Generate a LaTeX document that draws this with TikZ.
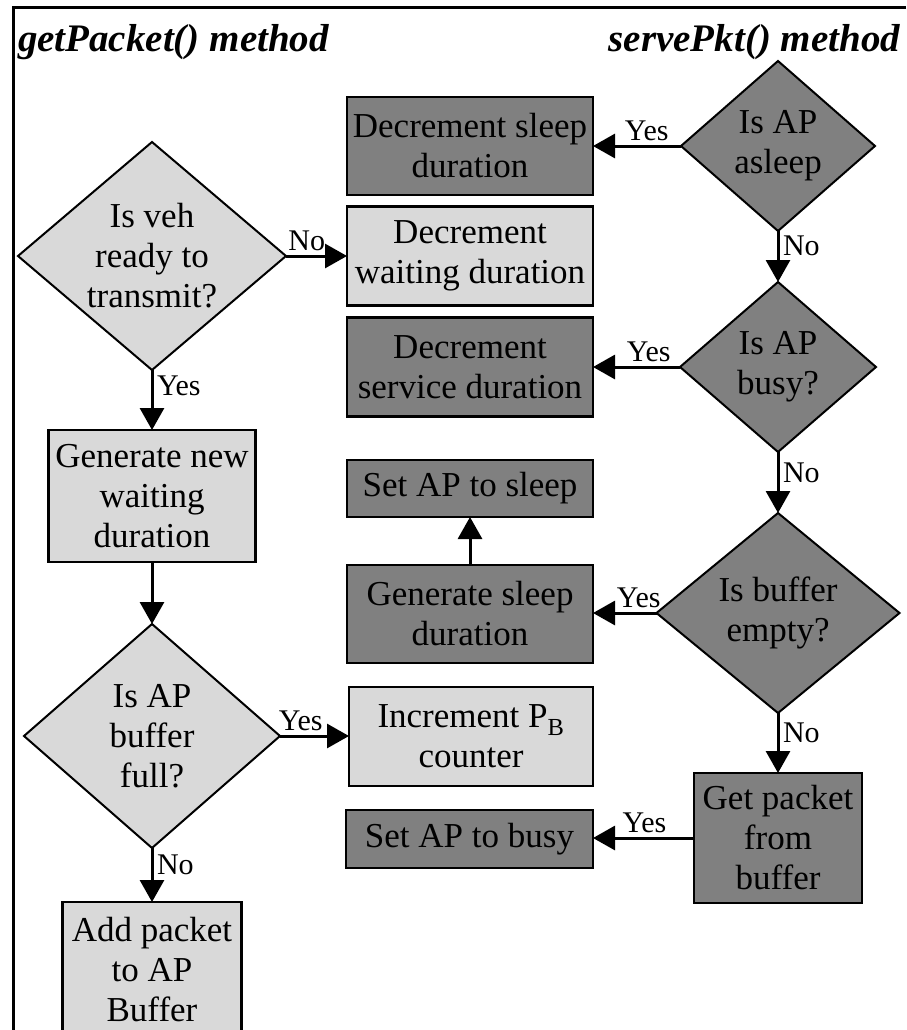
\documentclass[tikz,border=0pt]{standalone}
\usepackage{fontspec}
\setmainfont{Liberation Serif}
\usetikzlibrary{arrows.meta,shapes.geometric}
\definecolor{darkfill}{RGB}{128,128,128}
\definecolor{lightfill}{RGB}{217,217,217}

\begin{document}
\begin{tikzpicture}[x=1pt,y=-1pt,
  every node/.style={inner sep=0pt,outer sep=0pt},
  body/.style={font=\fontsize{35}{40}\selectfont, align=center},
  proc/.style={body, draw, line width=2.2pt, rectangle},
  darkproc/.style={proc, fill=darkfill},
  lightproc/.style={proc, fill=lightfill},
  decision/.style={diamond, draw, line width=2pt},
  darkdec/.style={decision, fill=darkfill},
  lightdec/.style={decision, fill=lightfill},
  flow/.style={line width=3pt, -{Triangle[length=22pt,width=24pt]}},
  ans/.style={font=\fontsize{30}{32}\selectfont, inner sep=5pt},
  title/.style={font=\fontsize{39}{44}\selectfont\bfseries\itshape},
]
\clip (0,0) rectangle (906,1030);

% outer frame
\draw[line width=3pt] (906,8) -- (13,8) -- (13,1040);

% section titles
\node[title, anchor=base west] (ttlA) at (18,52) {getPacket() method};
\node[title, anchor=base east] (ttlB) at (900,52) {servePkt() method};

% getPacket() column
\node[lightdec, minimum width=268pt, minimum height=228pt,
      label={[body]center:Is veh\\ready to\\transmit?}] (veh) at (152,256) {};
\node[lightproc, minimum width=207pt, minimum height=132pt] (genwait) at (152,496) {Generate new\\waiting\\duration};
\node[lightdec, minimum width=256pt, minimum height=224pt,
      label={[body]center:Is AP\\buffer\\full?}] (full) at (152,736) {};
\node[lightproc, minimum width=179pt, minimum height=136pt] (addpkt) at (152,970) {Add packet\\to AP\\Buffer};

% middle column of actions
\node[darkproc, minimum width=246pt, minimum height=98pt] (dsleep) at (470,146) {Decrement sleep\\duration};
\node[lightproc, minimum width=246pt, minimum height=99pt] (dwait) at (470,256) {Decrement\\waiting duration};
\node[darkproc, minimum width=246pt, minimum height=99pt] (dserv) at (470,367) {Decrement\\service duration};
\node[darkproc, minimum width=246pt, minimum height=57pt] (ssleep) at (470,488.5) {Set AP to sleep};
\node[darkproc, minimum width=246pt, minimum height=98pt] (gsleep) at (470,614) {Generate sleep\\duration};
\node[lightproc, minimum width=244pt, minimum height=99pt] (incr) at (471,736.5) {Increment P\textsubscript{B}\\counter};
\node[darkproc, minimum width=247pt, minimum height=58pt] (sbusy) at (469.5,839) {Set AP to busy};

% servePkt() column
\node[darkdec, minimum width=194pt, minimum height=170pt,
      label={[body]center:Is AP\\asleep}] (asleep) at (778,146) {};
\node[darkdec, minimum width=196pt, minimum height=170pt,
      label={[body]center:Is AP\\busy?}] (busy) at (778,367) {};
\node[darkdec, minimum width=243pt, minimum height=200pt,
      label={[body]center:Is buffer\\empty?}] (bufempty) at (778,613) {};
\node[darkproc, minimum width=168pt, minimum height=130pt] (getpkt) at (778,838) {Get packet\\from\\buffer};

% getPacket() connectors
\draw[flow] (veh.east) -- node[ans, pos=0.34, above] {No} (veh.east -| dwait.west);
\draw[flow] (veh.south) -- node[ans, pos=0.27, right] {Yes} (genwait.north);
\draw[flow] (genwait.south) -- (full.north);
\draw[flow] (full.east) -- node[ans, pos=0.3, above] {Yes} (full.east -| incr.west);
\draw[flow] (full.south) -- node[ans, pos=0.31, right] {No} (addpkt.north);

% servePkt() connectors
\draw[flow] (asleep.west) -- node[ans, pos=0.39, above] {Yes} (asleep.west -| dsleep.east);
\draw[flow] (asleep.south) -- node[ans, pos=0.29, right] {No} (busy.north);
\draw[flow] (busy.west) -- node[ans, pos=0.36, above] {Yes} (busy.west -| dserv.east);
\draw[flow] (busy.south) -- node[ans, pos=0.34, right] {No} (bufempty.north);
\draw[flow] (bufempty.west) -- node[ans, pos=0.28, above] {Yes} (bufempty.west -| gsleep.east);
\draw[flow] (gsleep.north) -- (ssleep.south);
\draw[flow] (bufempty.south) -- node[ans, pos=0.33, right] {No} (getpkt.north);
\draw[flow] (getpkt.west) -- node[ans, pos=0.49, above] {Yes} (getpkt.west -| sbusy.east);
\end{tikzpicture}
\end{document}
